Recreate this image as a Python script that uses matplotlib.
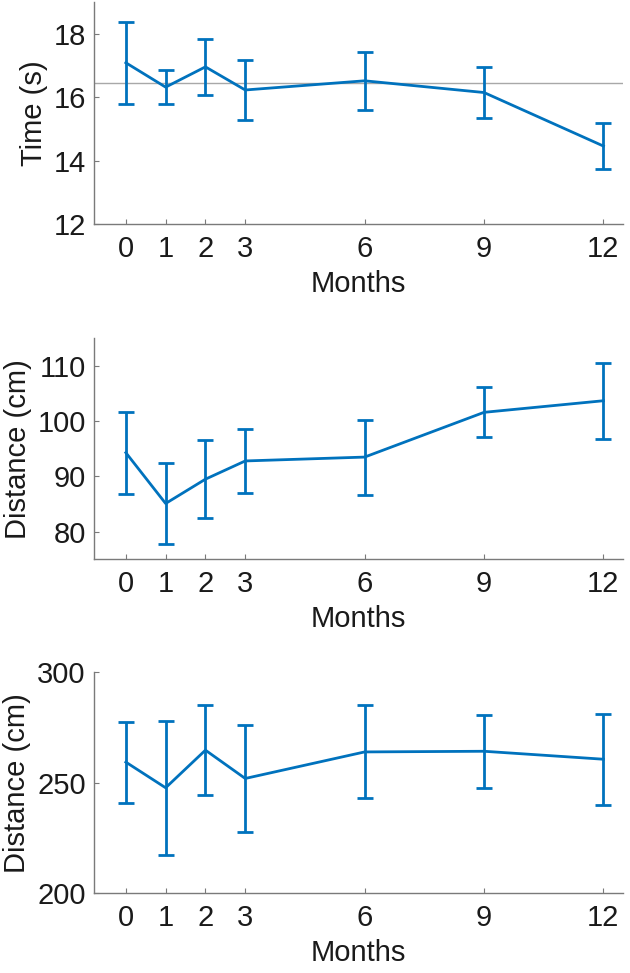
import matplotlib.pyplot as plt

plt.rcParams['font.family'] = ['Liberation Sans', 'DejaVu Sans']

# months measured
months = [0, 1, 2, 3, 6, 9, 12]

# top panel: time
time_mean = [17.09, 16.32, 16.96, 16.23, 16.52, 16.15, 14.46]
time_err = [1.30, 0.54, 0.89, 0.95, 0.91, 0.82, 0.72]
time_ref = 16.46

# middle panel: distance
dist1_mean = [94.3, 85.1, 89.5, 92.8, 93.5, 101.6, 103.7]
dist1_err = [7.4, 7.3, 7.1, 5.8, 6.8, 4.5, 6.9]

# bottom panel: distance
dist2_mean = [259.3, 247.7, 264.7, 251.9, 263.9, 264.2, 260.6]
dist2_err = [18.3, 30.2, 20.2, 24.0, 21.0, 16.5, 20.5]

blue = '#0072BD'
spine_col = '#7a7a7a'
text_col = '#1a1a1a'

fig = plt.figure(figsize=(6.3, 9.73), dpi=100)

panels = [
    (0.7698, 0.2279, time_mean, time_err, 'Time (s)', (12, 19), [12, 14, 16, 18]),
    (0.4252, 0.2271, dist1_mean, dist1_err, 'Distance (cm)', (75, 115), [80, 90, 100, 110]),
    (0.0819, 0.2274, dist2_mean, dist2_err, 'Distance (cm)', (200, 300), [200, 250, 300]),
]

for i, (bottom, height, mean, err, ylab, ylim, yticks) in enumerate(panels):
    ax = fig.add_axes([0.1492, bottom, 0.8402, height])
    if i == 0:
        ax.axhline(time_ref, color='#a8a8a8', lw=1.0, zorder=1)
    ax.errorbar(months, mean, yerr=err, color=blue, lw=2.0, elinewidth=2.0,
                capsize=5.5, capthick=2.0, zorder=3)
    ax.set_xlim(-0.8, 12.5)
    ax.set_ylim(*ylim)
    ax.set_xticks(months)
    ax.set_yticks(yticks)
    ax.set_xlabel('Months', fontsize=21, color=text_col, labelpad=5)
    ax.set_ylabel(ylab, fontsize=21, color=text_col, labelpad=4)
    ax.spines['top'].set_visible(False)
    ax.spines['right'].set_visible(False)
    for s in ['left', 'bottom']:
        ax.spines[s].set_color(spine_col)
        ax.spines[s].set_linewidth(1.0)
    ax.tick_params(direction='in', length=3.8, width=0.8, color=spine_col,
                   labelsize=21, labelcolor=text_col)
    ax.tick_params(axis='x', pad=8)
    ax.tick_params(axis='y', pad=6)

fig.savefig('out.png', dpi=100)
